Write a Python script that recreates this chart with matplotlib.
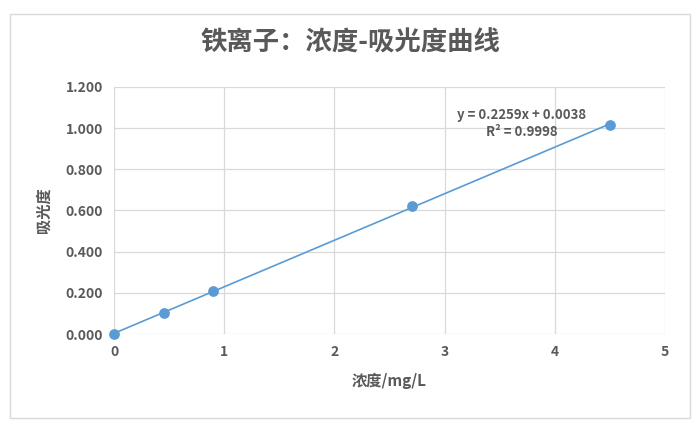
"""Iron ion calibration curve: concentration vs absorbance."""
import matplotlib
matplotlib.use("Agg")
import matplotlib.pyplot as plt
from matplotlib.patches import Rectangle

plt.rcParams["font.family"] = ["Noto Sans CJK SC", "DejaVu Sans"]

conc = [0, 0.45, 0.9, 2.7, 4.5]
absorb = [0.000, 0.104, 0.208, 0.621, 1.014]
slope, intercept = 0.2259, 0.0038
x_ticks = [0, 1, 2, 3, 4, 5]
y_ticks = [0.0, 0.2, 0.4, 0.6, 0.8, 1.0, 1.2]

text_c = "#595959"
blue = "#5b9bd5"

fig = plt.figure(figsize=(7, 4.3), dpi=100)
fig.patch.set_facecolor("white")
fig.add_artist(Rectangle((10 / 700, 12 / 430), 680 / 700, 404 / 430,
                         transform=fig.transFigure, fill=False,
                         edgecolor="#d9d9d9", linewidth=1))

ax = fig.add_axes([0.163, 0.223, 0.787, 0.575])
ax.set_xlim(0, 5)
ax.set_ylim(0, 1.2)

# trendline across data range
xs = [conc[0], conc[-1]]
ax.plot(xs, [slope * x + intercept for x in xs], color=blue, linewidth=1.2, zorder=3)
ax.scatter(conc, absorb, s=45, color=blue, zorder=4, clip_on=False)

ax.set_xticks(x_ticks)
ax.set_yticks(y_ticks)
ax.set_yticklabels([f"{v:.3f}" for v in y_ticks])
ax.grid(color="#d9d9d9", linewidth=0.9)
ax.set_axisbelow(True)
for s in ax.spines.values():
    s.set_visible(False)
ax.tick_params(length=0, colors=text_c, labelsize=10, pad=8)
for lbl in ax.get_xticklabels() + ax.get_yticklabels():
    lbl.set_fontweight("bold")

ax.set_xlabel("浓度/mg/L", color=text_c, fontsize=11, fontweight="bold", labelpad=10)
ax.set_ylabel("吸光度", color=text_c, fontsize=11, fontweight="bold", labelpad=10)

ax.text(3.70, 1.023, "y = 0.2259x + 0.0038\nR² = 0.9998", ha="center", va="center",
        color=text_c, fontsize=9.5, fontweight="bold", linespacing=1.3)

fig.text(0.5, 0.9, "铁离子：浓度-吸光度曲线", ha="center", va="center",
         color=text_c, fontsize=19, fontweight="bold")

fig.savefig("out.png", dpi=100, facecolor="white")
